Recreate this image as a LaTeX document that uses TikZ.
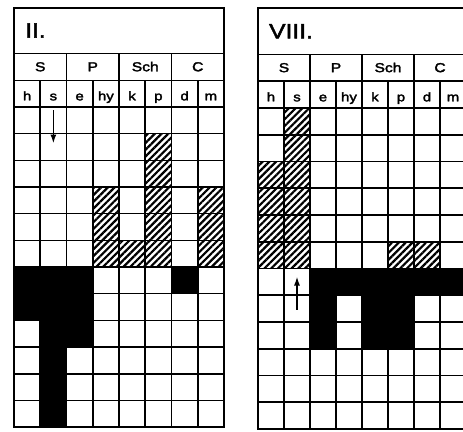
\documentclass[tikz,border=0pt]{standalone}
\usepackage{fontspec}
\setmainfont{Liberation Sans}
\newfontfamily\hdrfont[FakeStretch=1.2,FakeBold=2.4]{Liberation Sans}
\usetikzlibrary{patterns.meta,arrows.meta}
\tikzset{
  hatch/.style={pattern={Lines[angle=45,distance=4.8pt,line width=2.2pt]}},
  blackcell/.style={fill=black},
  gridline/.style={line width=1.6pt,line cap=rect},
  frameline/.style={line width=2pt},
  titletext/.style={font=\hdrfont\fontsize{20.5}{20.5}\selectfont,anchor=west,inner sep=0pt},
  grouptext/.style={font=\hdrfont\fontsize{13}{13}\selectfont,anchor=base,inner sep=0pt},
  subtext/.style={font=\hdrfont\fontsize{12.5}{12.5}\selectfont,anchor=base,inner sep=0pt},
  flowarrow/.style={line width=1.5pt,-{Latex[length=9pt,width=6pt]}}
}
\newcommand\panelframe[2]{%
  \foreach \r in {-2,-1,0,...,12} \draw[gridline] (0,\r) -- (8,\r);
  \foreach \c in {1,3,5,7} \draw[gridline] (\c,-1) -- (\c,12);
  \foreach \c in {2,4,6} \draw[gridline] (\c,-2) -- (\c,12);
  \draw[frameline] (0,-3.72) rectangle (8,12);
  \node[titletext] (#2title) at (0.42,-2.87) {#1};
  \foreach \t/\c in {S/1,P/3,Sch/5,C/7}
    \node[grouptext] (#2g\c) at (\c,-1.34) {\t};
  \foreach \t/\c in {h/1,s/2,e/3,hy/4,k/5,p/6,d/7,m/8}
    \node[subtext] (#2s\c) at (\c-0.5,-0.25) {\t};
}
\begin{document}
\begin{tikzpicture}[x=1pt,y=-1pt]
\clip (0,0) rectangle (463,431);
\fill[white] (0,0) rectangle (463,431);
% Panel II
\begin{scope}[shift={(14,107)},x=26.25pt,y=-26.67pt]
  \fill[blackcell] (0,6) -- (3,6) -- (3,9) -- (2,9) -- (2,12) -- (1,12) -- (1,8) -- (0,8) -- cycle;
  \fill[blackcell] (6,6) rectangle (7,7);
  \fill[hatch] (3,3) rectangle (4,6);
  \fill[hatch] (4,5) rectangle (5,6);
  \fill[hatch] (5,1) rectangle (6,6);
  \fill[hatch] (7,3) rectangle (8,6);
  \panelframe{II.}{L}
  \coordinate (Larrowstart) at (1.5,0.12);
  \coordinate (Larrowend) at (1.5,1.37);
  \draw[flowarrow] (Larrowstart) -- (Larrowend);
\end{scope}
% Panel VIII
\begin{scope}[shift={(258,108)},x=26pt,y=-26.75pt]
  \fill[hatch] (1,0) rectangle (2,6);
  \fill[hatch] (0,2) rectangle (1,6);
  \fill[hatch] (5,5) rectangle (7,6);
  \fill[blackcell] (2,6) rectangle (8,7);
  \fill[blackcell] (2,7) rectangle (3,9);
  \fill[blackcell] (4,7) rectangle (6,9);
  \panelframe{VIII.}{R}
  \coordinate (Rarrowstart) at (1.5,7.55);
  \coordinate (Rarrowend) at (1.5,6.3);
  \draw[flowarrow] (Rarrowstart) -- (Rarrowend);
\end{scope}
\end{tikzpicture}
\end{document}
